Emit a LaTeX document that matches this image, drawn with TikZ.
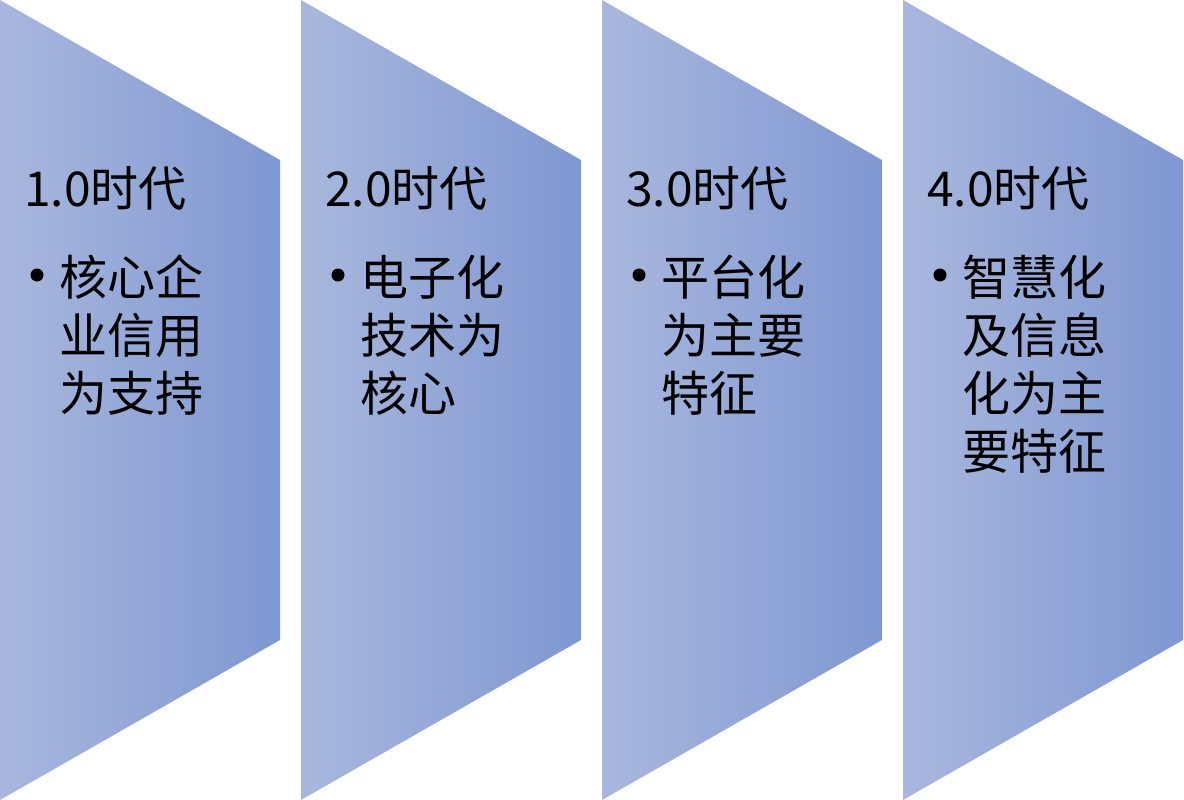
\documentclass[tikz,border=0pt]{standalone}
\usepackage{fontspec}
\newfontfamily\cjk{Noto Sans CJK SC}
\definecolor{lightb}{RGB}{169,183,221}
\definecolor{darkb}{RGB}{127,152,210}
\tikzset{
  chev/.style={left color=lightb,right color=darkb,draw=none},
  ttl/.style={anchor=base west,inner sep=0pt,font=\cjk\fontsize{48}{58}\selectfont,text=black},
  bodyline/.style={anchor=base west,inner sep=0pt,font=\cjk\fontsize{48}{58}\selectfont,text=black},
  dot/.style={circle,fill=black,inner sep=0pt,minimum size=13pt}
}
\begin{document}
\begin{tikzpicture}[x=1pt,y=-1pt]
\useasboundingbox (0,0) rectangle (1184,800);
\foreach \c in {0,301,602,903}{
  \shade[chev] (\c,0) -- (\c+280,160) -- (\c+280,640) -- (\c,800) -- cycle;
}
% column 1
\node[ttl] (t1) at (24,206) {1.0时代};
\node[dot] (b1) at (37,275) {};
\node[bodyline] (l11) at (59,295) {核心企};
\node[bodyline] (l12) at (59,353) {业信用};
\node[bodyline] (l13) at (59,411) {为支持};
% column 2
\node[ttl] (t2) at (325,206) {2.0时代};
\node[dot] (b2) at (338,275) {};
\node[bodyline] (l21) at (360,295) {电子化};
\node[bodyline] (l22) at (360,353) {技术为};
\node[bodyline] (l23) at (360,411) {核心};
% column 3
\node[ttl] (t3) at (626,206) {3.0时代};
\node[dot] (b3) at (639,275) {};
\node[bodyline] (l31) at (661,295) {平台化};
\node[bodyline] (l32) at (661,353) {为主要};
\node[bodyline] (l33) at (661,411) {特征};
% column 4
\node[ttl] (t4) at (927,206) {4.0时代};
\node[dot] (b4) at (940,275) {};
\node[bodyline] (l41) at (962,295) {智慧化};
\node[bodyline] (l42) at (962,353) {及信息};
\node[bodyline] (l43) at (962,411) {化为主};
\node[bodyline] (l44) at (962,469) {要特征};
\end{tikzpicture}
\end{document}
